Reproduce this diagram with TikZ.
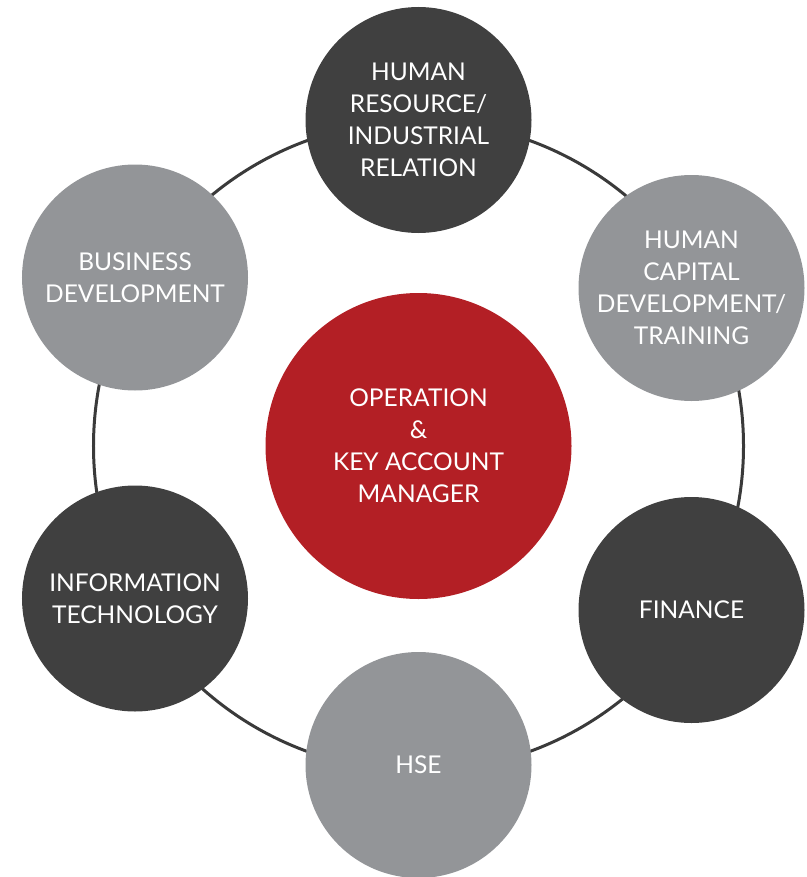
\documentclass[tikz,border=0pt]{standalone}
\usepackage{fontspec}
\setmainfont{Lato}
\usepackage{xcolor}
\usepackage{tikz}

\definecolor{darkgrey}{RGB}{64,64,64}
\definecolor{lightgrey}{RGB}{147,149,152}
\definecolor{deepred}{RGB}{179,31,37}
\definecolor{ringgrey}{RGB}{58,58,58}

\begin{document}
\begin{tikzpicture}[x=1bp, y=-1bp,
    dept/.style={circle, minimum size=226bp, inner sep=0pt, align=center, text=white,
        font=\fontsize{24.5bp}{32bp}\selectfont},
    hub/.style={dept, minimum size=306bp, fill=deepred}]
    \useasboundingbox (0,0) rectangle (807,877);
    \coordinate (o) at (418.5,446);
    \draw[color=ringgrey, line width=3bp] (o) circle [radius=325bp];
    \node[hub] (ops) at (o) {OPERATION\\\&\\KEY ACCOUNT\\MANAGER};
    \node[dept, fill=darkgrey] (hr) at (418.5,120) {HUMAN\\RESOURCE/\\INDUSTRIAL\\RELATION};
    \node[dept, fill=lightgrey] (hc) at (691.5,288) {HUMAN\\CAPITAL\\DEVELOPMENT/\\TRAINING};
    \node[dept, fill=darkgrey] (fin) at (691.5,610) {FINANCE};
    \node[dept, fill=lightgrey] (hse) at (418.5,765) {HSE};
    \node[dept, fill=darkgrey] (it) at (135,598.5) {INFORMATION\\TECHNOLOGY};
    \node[dept, fill=lightgrey] (bd) at (135,277.5) {BUSINESS\\DEVELOPMENT};
\end{tikzpicture}
\end{document}
